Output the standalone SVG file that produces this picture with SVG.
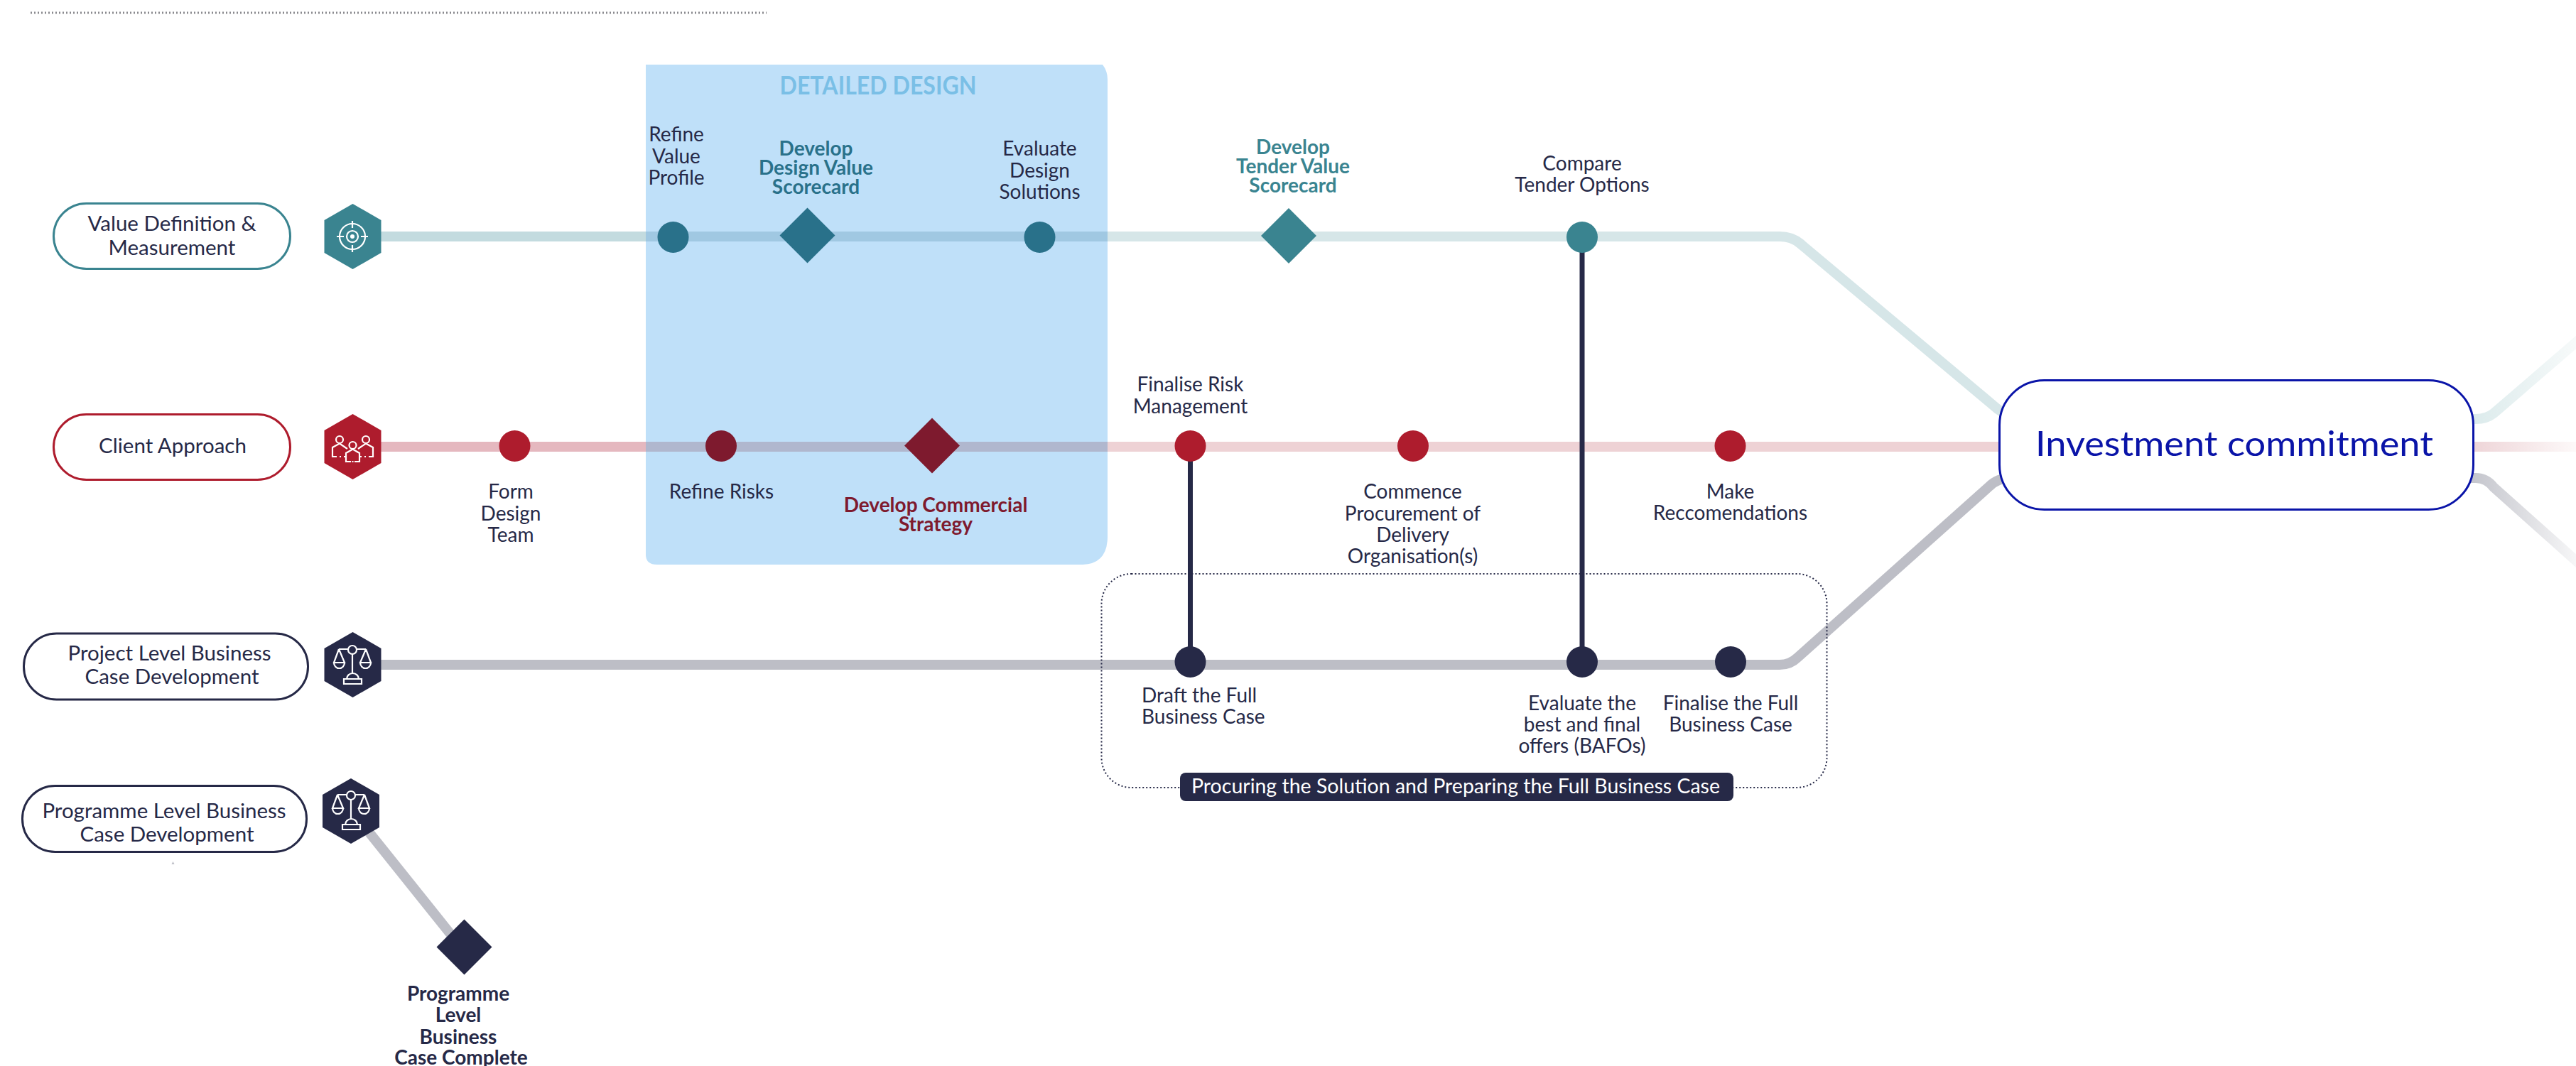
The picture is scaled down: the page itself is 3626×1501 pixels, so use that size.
<svg xmlns="http://www.w3.org/2000/svg" xmlns:xlink="http://www.w3.org/1999/xlink" width="3626" height="1501" viewBox="0 0 3626 1501">
<style>
text{font-family:"Lato","Noto Sans","Liberation Sans",sans-serif;font-size:28px;fill:#262947;text-anchor:middle;transform:translateY(1.500px)}
.b{font-weight:700}
.p{font-size:29.500px}
.tl{fill:#3a8490}.td{fill:#29718a}.rd{fill:#7e1a2e}
.line{fill:none;stroke-width:14}
.pill{fill:#fff;stroke-width:3}
.ic{fill:none;stroke:#fff;stroke-width:2.2}
.v{stroke:#262947;stroke-width:7}
</style>
<defs>
<linearGradient id="gt" gradientUnits="userSpaceOnUse" x1="3482" y1="0" x2="3626" y2="0"><stop offset="0" stop-color="#dcebec"/><stop offset="1" stop-color="#f7fafa"/></linearGradient>
<linearGradient id="gr" gradientUnits="userSpaceOnUse" x1="3482" y1="0" x2="3626" y2="0"><stop offset="0" stop-color="#eed5d8"/><stop offset="1" stop-color="#fdf9f9"/></linearGradient>
<linearGradient id="gg" gradientUnits="userSpaceOnUse" x1="3482" y1="0" x2="3626" y2="0"><stop offset="0" stop-color="#c5c6cd"/><stop offset="1" stop-color="#f6f6f7"/></linearGradient>
<polygon id="hex" points="0,-46 40,-23 40,23 0,46 -40,23 -40,-23"/>
<polygon id="dia" points="0,-39 39,0 0,39 -39,0"/>
<g id="scale" class="ic">
<circle cx="0" cy="-21" r="6"/><path d="M-19-22H-6M6-22H19M0-15V12"/>
<path d="M-19-22L-26-3H-11L-19-22M-26-3A7.500 8 0 0 0-11-3M19-22L11-3H26L19-22M11-3A7.500 8 0 0 0 26-3"/>
<path d="M-8 20A8.500 8 0 0 1 9 20M-12 20H13V27H-12Z"/>
</g>
</defs>
<rect width="3626" height="1501" fill="#fff"/>
<line x1="43" y1="18" x2="1079" y2="18" stroke="#8a8a8f" stroke-width="3" stroke-dasharray="2 3"/>

<g id="connectors">
<path class="line" stroke="#c3dbdf" d="M530 333H909"/>
<path class="line" stroke="#d6e6e8" d="M1559 333H2505Q2522 333 2534 343L2812 576Q2822 584 2835 584"/>
<path class="line" stroke="#e5b8bf" d="M530 629H909"/>
<path class="line" stroke="#eed2d5" d="M1559 629H2830"/>
<path class="line" stroke="#bdbec6" d="M530 936H2505Q2520 936 2530 926L2800 685Q2812 673 2830 673"/>
<path class="line" stroke="#bdbec6" d="M510 1160L650 1335"/>
<path class="line" stroke="url(#gt)" d="M3470 590H3485Q3500 590 3510 582L3640 470"/>
<path class="line" stroke="url(#gr)" d="M3470 629H3626"/>
<path class="line" stroke="url(#gg)" d="M3470 673H3485Q3500 673 3510 686L3640 802"/>
</g>

<g id="detailed-design">
<path fill="#bfe0f9" d="M909 91H1552Q1559 100 1559 112V755Q1559 795 1522 795H925Q909 795 909 781Z"/>
<text x="1236" y="131" style="font-size:37px;font-weight:700;fill:#7abfe6" textLength="277" lengthAdjust="spacingAndGlyphs">DETAILED DESIGN</text>
</g>
<g id="connectors-over-panel">
<path class="line" stroke="#a0c8e2" d="M909 333H1559"/>
<path class="line" stroke="#b0b7ce" d="M909 629H1559"/>
<line class="v" x1="2227" y1="334" x2="2227" y2="932"/>
<line class="v" x1="1675.500" y1="628" x2="1675.500" y2="932"/>
</g>

<g id="procuring-frame">
<rect x="1550.500" y="808" width="1021" height="301" rx="42" fill="none" stroke="#262947" stroke-width="2" stroke-dasharray="2 3"/>
<rect x="1661" y="1088" width="779" height="40" rx="8" fill="#262947"/>
<text x="2049" y="1115" style="fill:#fff" textLength="744" lengthAdjust="spacingAndGlyphs">Procuring the Solution and Preparing the Full Business Case</text>
</g>

<g id="pill-value"><rect class="pill" stroke="#3a8490" x="75.500" y="286.500" width="333" height="92" rx="46"/><text class="p" x="242" y="323">Value Definition &amp;</text><text class="p" x="242" y="357">Measurement</text></g>
<g id="pill-client"><rect class="pill" stroke="#ae1c2d" x="75.500" y="583.500" width="333" height="92" rx="46"/><text class="p" x="243" y="636">Client Approach</text></g>
<g id="pill-project"><rect class="pill" stroke="#262947" x="33.500" y="892" width="400" height="93" rx="46"/><text class="p" x="238.500" y="928">Project Level Business</text><text class="p" x="242" y="961">Case Development</text></g>
<g id="pill-programme"><rect class="pill" stroke="#262947" x="31.500" y="1106.500" width="400" height="93" rx="46"/><text class="p" x="231" y="1150">Programme Level Business</text><text class="p" x="235" y="1183">Case Development</text></g>
<polygon points="243.500,1213 245.500,1217 241.500,1217" fill="#bdbec6"/>

<g id="hex-value"><use href="#hex" x="496.500" y="333" fill="#3a8490"/>
<g class="ic"><circle cx="496" cy="333" r="18"/><circle cx="496" cy="333" r="8"/><path d="M496 311V321M496 345V355M474 333H484M508 333H518"/></g><circle cx="496" cy="333" r="3" fill="#fff"/></g>
<g id="hex-client"><use href="#hex" x="496.500" y="629" fill="#ae1c2d"/>
<g class="ic"><circle cx="478" cy="619" r="5"/><circle cx="515" cy="619" r="5"/><circle cx="496.500" cy="627" r="5"/>
<path d="M474 643H468V630L478 624.500L489 632M478 643H480M484 643H487M519 643H525V630L515 624.500L504 632M515 643H513M509 643H506M494 650H487V638L496.500 632.500L506 638V650H499M495.500 650H497.500"/></g></g>
<g id="hex-project"><use href="#hex" x="496.500" y="936" fill="#262947"/><use href="#scale" x="496" y="936"/></g>
<g id="hex-programme"><use href="#hex" x="494" y="1142" fill="#262947"/><use href="#scale" x="494" y="1141"/></g>

<g id="n-refine-value"><circle cx="947.500" cy="334" r="22" fill="#29718a"/><text x="952" y="197">Refine</text><text x="952" y="228">Value</text><text x="952" y="258">Profile</text></g>
<g id="n-design-scorecard"><use href="#dia" x="1136.500" y="331.500" fill="#29718a"/><text class="b td" x="1148.500" y="217">Develop</text><text class="b td" x="1148.500" y="244">Design Value</text><text class="b td" x="1148.500" y="271">Scorecard</text></g>
<g id="n-evaluate-design"><circle cx="1463.500" cy="334" r="22" fill="#29718a"/><text x="1463.500" y="217">Evaluate</text><text x="1463.500" y="248">Design</text><text x="1463.500" y="278">Solutions</text></g>
<g id="n-tender-scorecard"><use href="#dia" x="1814" y="332" fill="#3a8490"/><text class="b tl" x="1820" y="215">Develop</text><text class="b tl" x="1820" y="242">Tender Value</text><text class="b tl" x="1820" y="269">Scorecard</text></g>
<g id="n-compare"><circle cx="2227" cy="334" r="22" fill="#3a8490"/><text x="2227" y="238">Compare</text><text x="2227" y="268">Tender Options</text></g>

<g id="n-form"><circle cx="724.500" cy="628" r="22" fill="#ae1c2d"/><text x="719" y="700">Form</text><text x="719" y="731">Design</text><text x="719" y="761">Team</text></g>
<g id="n-refine-risks"><circle cx="1015" cy="628" r="22" fill="#7e1a2e"/><text x="1015.500" y="700">Refine Risks</text></g>
<g id="n-commercial"><use href="#dia" x="1312" y="627.500" fill="#7e1a2e"/><text class="b rd" x="1317" y="719">Develop Commercial</text><text class="b rd" x="1317" y="746">Strategy</text></g>
<g id="n-finalise-risk"><circle cx="1675.500" cy="628" r="22" fill="#ae1c2d"/><text x="1675.500" y="549">Finalise Risk</text><text x="1675.500" y="580">Management</text></g>
<g id="n-commence"><circle cx="1989" cy="628" r="22" fill="#ae1c2d"/><text x="1988.500" y="700">Commence</text><text x="1988.500" y="731">Procurement of</text><text x="1988.500" y="761">Delivery</text><text x="1988.500" y="791">Organisation(s)</text></g>
<g id="n-make"><circle cx="2435.500" cy="628" r="22" fill="#ae1c2d"/><text x="2435.500" y="700">Make</text><text x="2435.500" y="730">Reccomendations</text></g>

<g id="n-draft"><circle cx="1675.500" cy="932" r="22" fill="#262947"/><text x="1607" y="987" style="text-anchor:start">Draft the Full</text><text x="1607" y="1017" style="text-anchor:start">Business Case</text></g>
<g id="n-bafo"><circle cx="2227" cy="932" r="22" fill="#262947"/><text x="2227" y="998">Evaluate the</text><text x="2227" y="1028">best and final</text><text x="2227" y="1058">offers (BAFOs)</text></g>
<g id="n-finalise-fbc"><circle cx="2436" cy="932" r="22" fill="#262947"/><text x="2436" y="998">Finalise the Full</text><text x="2436" y="1028">Business Case</text></g>

<g id="n-programme-complete"><use href="#dia" x="653.500" y="1333.500" fill="#262947"/><text class="b" x="645" y="1407">Programme</text><text class="b" x="645" y="1437">Level</text><text class="b" x="645" y="1468">Business</text><text class="b" x="649" y="1497">Case Complete</text></g>

<g id="investment-commitment"><rect x="2814.500" y="535.500" width="667" height="182" rx="63" fill="#fff" stroke="#0a14a8" stroke-width="3"/><text x="3145" y="640" style="font-size:49px;fill:#0a14a8" textLength="560" lengthAdjust="spacingAndGlyphs">Investment commitment</text></g>
</svg>
